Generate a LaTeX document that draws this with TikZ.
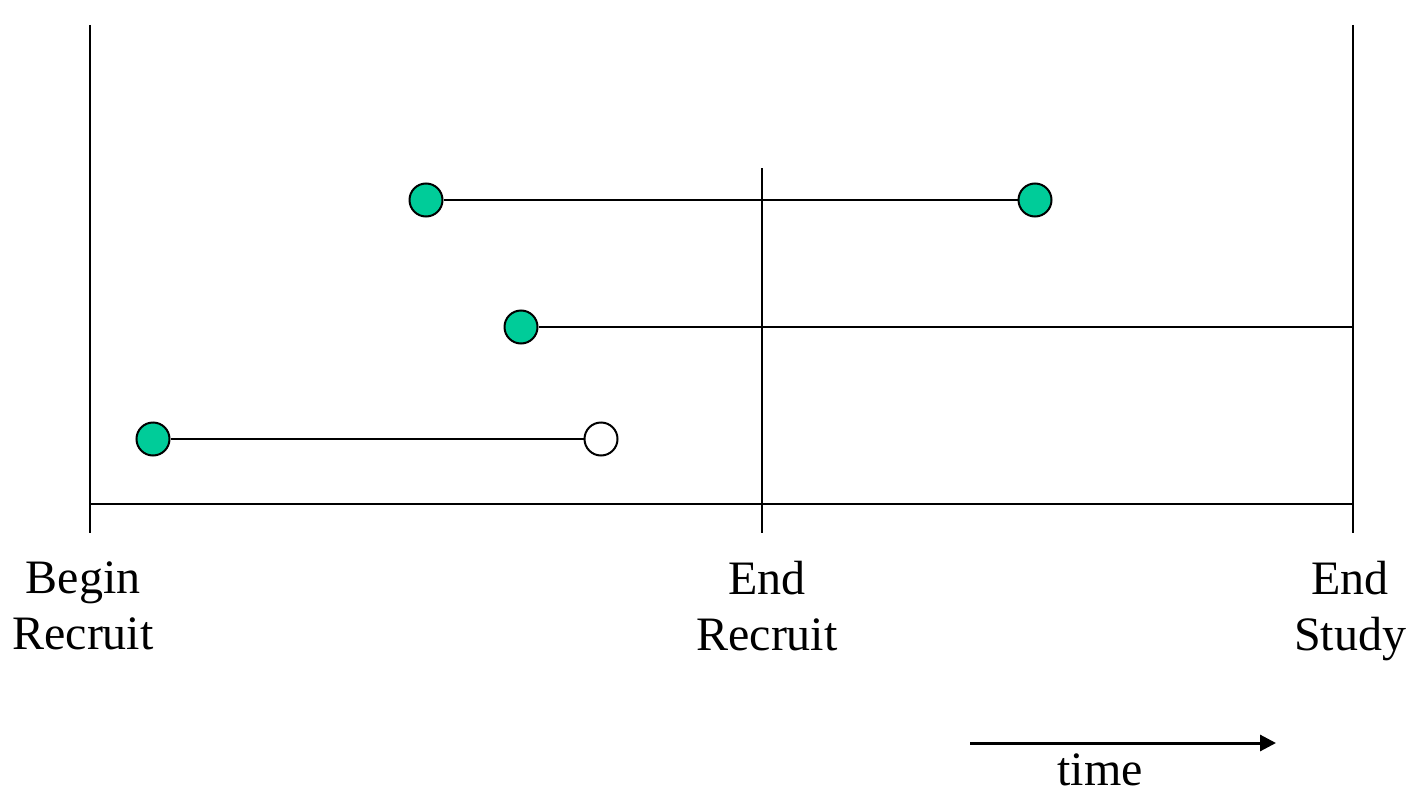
\documentclass[tikz,border=0pt]{standalone}
\usepackage{fontspec}
\setmainfont{Liberation Serif}
\usetikzlibrary{arrows.meta}
\definecolor{dotgreen}{RGB}{0,204,153}
\begin{document}
\begin{tikzpicture}[x=0.5pt,y=-0.5pt,
  axis/.style={line width=1pt},
  seg/.style={line width=1pt},
  event/.style={circle,draw,line width=1pt,fill=dotgreen,minimum size=16.5pt,inner sep=0pt},
  censor/.style={circle,draw,line width=1pt,fill=white,minimum size=16.5pt,inner sep=0pt},
  lbl/.style={font=\fontsize{24}{28}\selectfont,align=center,inner sep=0pt,anchor=north}]
\useasboundingbox (0,0) rectangle (1412,792);
% axes
\coordinate (lt) at (90,25);
\coordinate (lb) at (90,533);
\coordinate (rt) at (1353,25);
\coordinate (rb) at (1353,533);
\coordinate (mt) at (762,168);
\coordinate (mb) at (762,533);
\coordinate (hl) at (90,504);
\coordinate (hr) at (1353,504);
\draw[axis] (lt) -- (lb);
\draw[axis] (rt) -- (rb);
\draw[axis] (mt) -- (mb);
\draw[axis] (hl) -- (hr);
% subjects
\node[event] (a1) at (426,200) {};
\node[event] (a2) at (1035,200) {};
\draw[seg] (a1) -- (a2);
\node[event] (b1) at (521,327) {};
\coordinate (b2) at (1353,327);
\draw[seg] (b1) -- (b2);
\node[event] (c1) at (153,439) {};
\node[censor] (c2) at (601,439) {};
\draw[seg] (c1) -- (c2);
% labels
\node[lbl] (l1) at (83,561) {Begin\\Recruit};
\node[lbl] (l2) at (767,561) {End\\Recruit};
\node[lbl] (l3) at (1350,561) {End\\Study};
% time arrow
\coordinate (t1) at (970,743);
\coordinate (t2) at (1276,743);
\draw[line width=1.5pt,-{Triangle[length=8pt,width=8pt]}] (t1) -- (t2);
\node[font=\fontsize{24}{28}\selectfont,inner sep=0pt,anchor=base] (tm) at (1100,785) {time};
\end{tikzpicture}
\end{document}
